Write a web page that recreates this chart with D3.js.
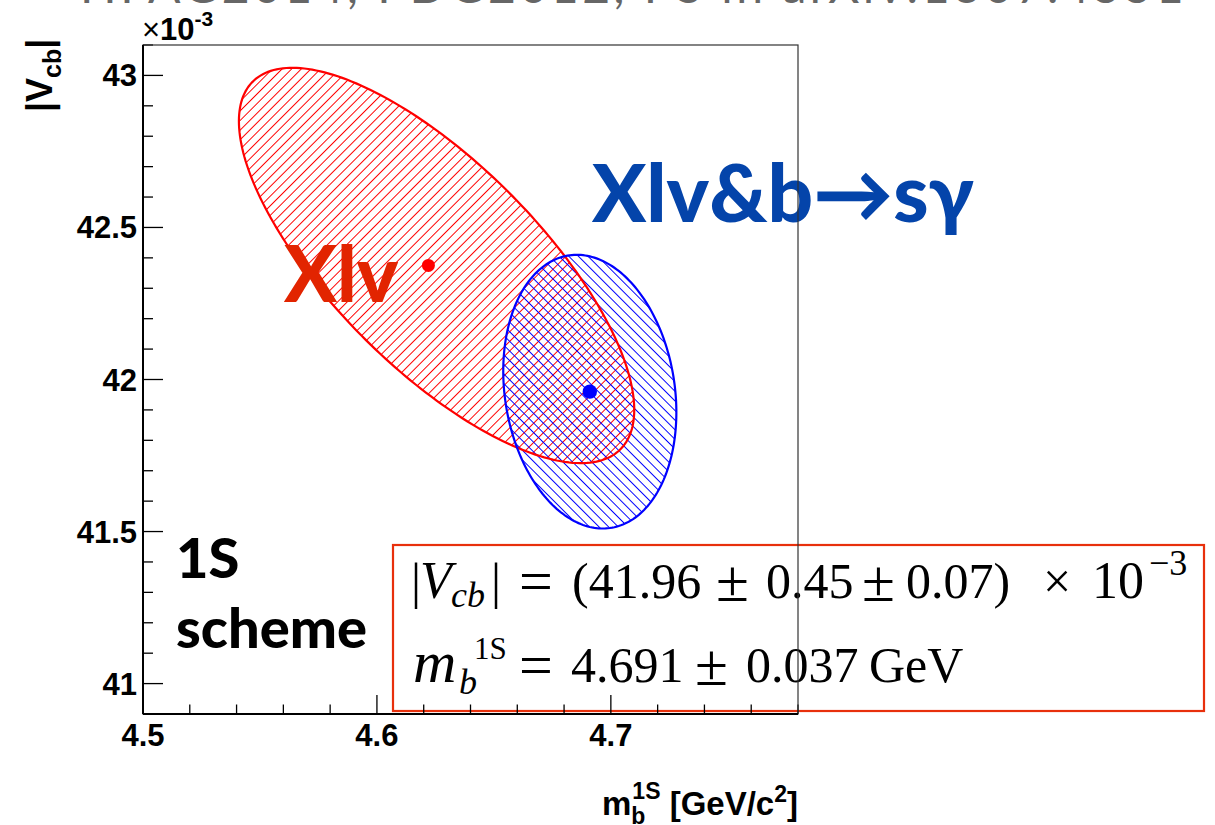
<!DOCTYPE html>
<html>
<head>
<meta charset="utf-8">
<script src="https://cdn.jsdelivr.net/npm/d3@7"></script>
<style>
  html, body { margin: 0; padding: 0; background: #fff; }
  svg { display: block; }
</style>
</head>
<body>
<svg id="chart" width="1215" height="825"></svg>
<script>
// Axis ranges (|Vcb| in units of 1e-3, mb in GeV)
const xDomain = [4.5, 4.78];
const yDomain = [40.9, 43.1];
const xMajorTicks = [4.5, 4.6, 4.7];
const yMajorTicks = [41, 41.5, 42, 42.5, 43];
const xTickLabels = ["4.5", "4.6", "4.7"];
const yTickLabels = ["41", "41.5", "42", "42.5", "43"];

// Fit results: best-fit point, contour centre, 1-sigma widths and correlation
const fitNames = ["Xlv", "Xlv&b\u2192s\u03b3"];
const fitMb = [4.622, 4.691];
const fitVcb = [42.375, 41.96];
const contourMb = [4.6255, 4.691];
const contourVcb = [42.375, 41.96];
const fitSigmaMb = [0.0845, 0.037];
const fitSigmaVcb = [0.650, 0.45];
const fitRho = [-0.73, -0.15];
const fitColors = ["#ff0000", "#0000ff"];
const dotRadius = [6.5, 7.2];

const svg = d3.select("#chart");
const plot = { left: 143, right: 798, top: 45, bottom: 714 };

const x = d3.scaleLinear().domain(xDomain).range([plot.left, plot.right]);
const y = d3.scaleLinear().domain(yDomain).range([plot.bottom, plot.top]);

// Hatch patterns
const defs = svg.append("defs");
function hatch(id, color, angle) {
  const p = defs.append("pattern")
    .attr("id", id)
    .attr("patternUnits", "userSpaceOnUse")
    .attr("width", 6.8).attr("height", 10)
    .attr("patternTransform", `rotate(${angle})`);
  p.append("line")
    .attr("x1", 3.4).attr("x2", 3.4).attr("y1", -1).attr("y2", 11)
    .attr("stroke", color).attr("stroke-width", 1);
}
hatch("hatchRed", "#ff0000", 45);
hatch("hatchBlue", "#0000ff", -45);
const fills = ["url(#hatchRed)", "url(#hatchBlue)"];

// Faded heading text running off the top edge
svg.append("text")
  .attr("x", 80).attr("y", 3)
  .attr("font-family", "Lato, 'Open Sans', sans-serif")
  .attr("font-size", 48)
  .attr("fill", "#666")
  .attr("letter-spacing", 3.5)
  .text("HFAG2014, PDG2012, PS in arXiv:1307.4551");

// Delta chi2 = 1 contour as a parametric ellipse
function contour(i) {
  const n = 240;
  const r = fitRho[i];
  const pts = d3.range(n + 1).map(k => {
    const t = 2 * Math.PI * k / n;
    const mx = contourMb[i] + fitSigmaMb[i] * Math.cos(t);
    const vy = contourVcb[i] + fitSigmaVcb[i] * (r * Math.cos(t) + Math.sqrt(1 - r * r) * Math.sin(t));
    return [mx, vy];
  });
  return d3.line().x(d => x(d[0])).y(d => y(d[1]))(pts) + "Z";
}

const gFits = svg.append("g");
fitNames.forEach((n, i) => {
  gFits.append("path").attr("d", contour(i)).attr("fill", fills[i]).attr("stroke", "none");
});
fitNames.forEach((n, i) => {
  gFits.append("path").attr("d", contour(i)).attr("fill", "none")
    .attr("stroke", fitColors[i]).attr("stroke-width", 2.2);
});
fitNames.forEach((n, i) => {
  gFits.append("circle").attr("cx", x(fitMb[i])).attr("cy", y(fitVcb[i]))
    .attr("r", dotRadius[i]).attr("fill", fitColors[i]);
});

// Labels
const bigFont = "Lato, 'Open Sans', 'DejaVu Sans', sans-serif";
svg.append("text").attr("x", 284).attr("y", 302)
  .attr("font-family", bigFont).attr("font-weight", 900).attr("font-size", 78)
  .attr("fill", "#e22400").text(fitNames[0]);
svg.append("text").attr("x", 592).attr("y", 222)
  .attr("font-family", bigFont).attr("font-weight", 900).attr("font-size", 80)
  .attr("fill", "#0444aa").text(fitNames[1]);

svg.append("text").attr("x", 176).attr("y", 578)
  .attr("font-family", bigFont).attr("font-weight", 900).attr("font-size", 56)
  .attr("fill", "#000").text("1S");
svg.append("text").attr("x", 176).attr("y", 648)
  .attr("font-family", bigFont).attr("font-weight", 900).attr("font-size", 56)
  .attr("fill", "#000").text("scheme");

// Result box
svg.append("rect").attr("x", 393).attr("y", 545).attr("width", 811).attr("height", 166)
  .attr("fill", "none").attr("stroke", "#e8300c").attr("stroke-width", 2.2);

const serif = "'Liberation Serif', 'DejaVu Serif', serif";
// pieces of each formula: [text, x, baseline offset, size, italic]
const line1 = [
  ["|", 411, 0, 50, false],
  ["V", 420, 0, 52, true],
  ["cb", 451, 9, 36, true],
  ["|", 491, 0, 50, false],
  ["=", 519, 3, 60, false],
  ["(41.96", 572, 0, 50, false],
  ["\u00b1", 716, 3, 60, false],
  ["0.45", 766, 0, 50, false],
  ["\u00b1", 862, 3, 60, false],
  ["0.07)", 906, 0, 50, false],
  ["\u00d7", 1043, 0, 50, false],
  ["10", 1092, 0, 52, false],
  ["\u22123", 1149, -23, 36, false]
];
const line2 = [
  ["m", 413, 0, 60, true],
  ["b", 459, 12, 36, true],
  ["1S", 474, -23, 31, false],
  ["=", 519, 3, 60, false],
  ["4.691", 571, 0, 50, false],
  ["\u00b1", 695, 3, 60, false],
  ["0.037", 746, 0, 50, false],
  ["GeV", 869, 0, 50, false]
];
function formula(pieces, base) {
  const g = svg.append("g");
  pieces.forEach(p => {
    g.append("text").attr("x", p[1]).attr("y", base + p[2])
      .attr("font-family", serif).attr("font-size", p[3])
      .attr("font-style", p[4] ? "italic" : "normal")
      .attr("fill", "#000").text(p[0]);
  });
}
formula(line1, 598);
formula(line2, 682);

// Axes
const axFont = "'Liberation Sans', Arial, Helvetica, sans-serif";
const gAx = svg.append("g");

const xMinor = d3.range(0, 15).map(k => 4.5 + k * 0.02).filter(v => v <= xDomain[1] + 1e-9);
xMinor.forEach(v => {
  const major = xMajorTicks.some(m => Math.abs(m - v) < 1e-9);
  gAx.append("line").attr("x1", x(v)).attr("x2", x(v))
    .attr("y1", plot.bottom).attr("y2", plot.bottom - (major ? 19 : 9.5))
    .attr("stroke", "#000").attr("stroke-width", 1.3);
});
xMajorTicks.forEach((v, i) => {
  gAx.append("text").attr("x", x(v)).attr("y", 746)
    .attr("text-anchor", "middle").attr("font-family", axFont)
    .attr("font-weight", "bold").attr("font-size", 31).text(xTickLabels[i]);
});

const yMinor = d3.range(0, 23).map(k => 40.9 + k * 0.1).filter(v => v <= yDomain[1] + 1e-9);
yMinor.forEach(v => {
  const major = yMajorTicks.some(m => Math.abs(m - v) < 1e-6);
  gAx.append("line").attr("x1", plot.left).attr("x2", plot.left + (major ? 20 : 10))
    .attr("y1", y(v)).attr("y2", y(v))
    .attr("stroke", "#000").attr("stroke-width", 1.3);
});
yMajorTicks.forEach((v, i) => {
  gAx.append("text").attr("x", 137).attr("y", y(v) + 11)
    .attr("text-anchor", "end").attr("font-family", axFont)
    .attr("font-weight", "bold").attr("font-size", 31).text(yTickLabels[i]);
});

// exponent marker
const ex = svg.append("text").attr("x", 142).attr("y", 40)
  .attr("font-family", axFont).attr("font-size", 31).attr("font-weight", "bold");
ex.append("tspan").attr("font-weight", "normal").text("\u00d7");
ex.append("tspan").text("10");
ex.append("tspan").attr("font-size", 21).attr("dy", -14).text("-3");

// axis titles
const yt = svg.append("text")
  .attr("transform", "translate(52,112) rotate(-90)")
  .attr("font-family", axFont).attr("font-weight", "bold").attr("font-size", 36);
yt.append("tspan").text("|V");
yt.append("tspan").attr("font-size", 25).attr("dy", 9).text("cb");
yt.append("tspan").attr("dy", -9).text("|");

const xt = svg.append("text").attr("x", 798).attr("y", 815)
  .attr("text-anchor", "end")
  .attr("font-family", axFont).attr("font-weight", "bold").attr("font-size", 33);
xt.append("tspan").text("m");
xt.append("tspan").attr("font-size", 23).attr("dy", 9).text("b");
xt.append("tspan").attr("font-size", 23).attr("dx", -13).attr("dy", -25).text("1S");
xt.append("tspan").attr("dy", 16).text(" [GeV/c");
xt.append("tspan").attr("font-size", 23).attr("dy", -13).text("2");
xt.append("tspan").attr("dy", 13).text("]");

// frame
svg.append("rect").attr("x", plot.left).attr("y", plot.top)
  .attr("width", plot.right - plot.left).attr("height", plot.bottom - plot.top)
  .attr("fill", "none").attr("stroke", "#333").attr("stroke-width", 1.2);
svg.append("line").attr("x1", plot.left).attr("x2", plot.left)
  .attr("y1", plot.top).attr("y2", plot.bottom).attr("stroke", "#000").attr("stroke-width", 2);
svg.append("line").attr("x1", plot.left).attr("x2", plot.right)
  .attr("y1", plot.bottom).attr("y2", plot.bottom).attr("stroke", "#000").attr("stroke-width", 2);
</script>
</body>
</html>
